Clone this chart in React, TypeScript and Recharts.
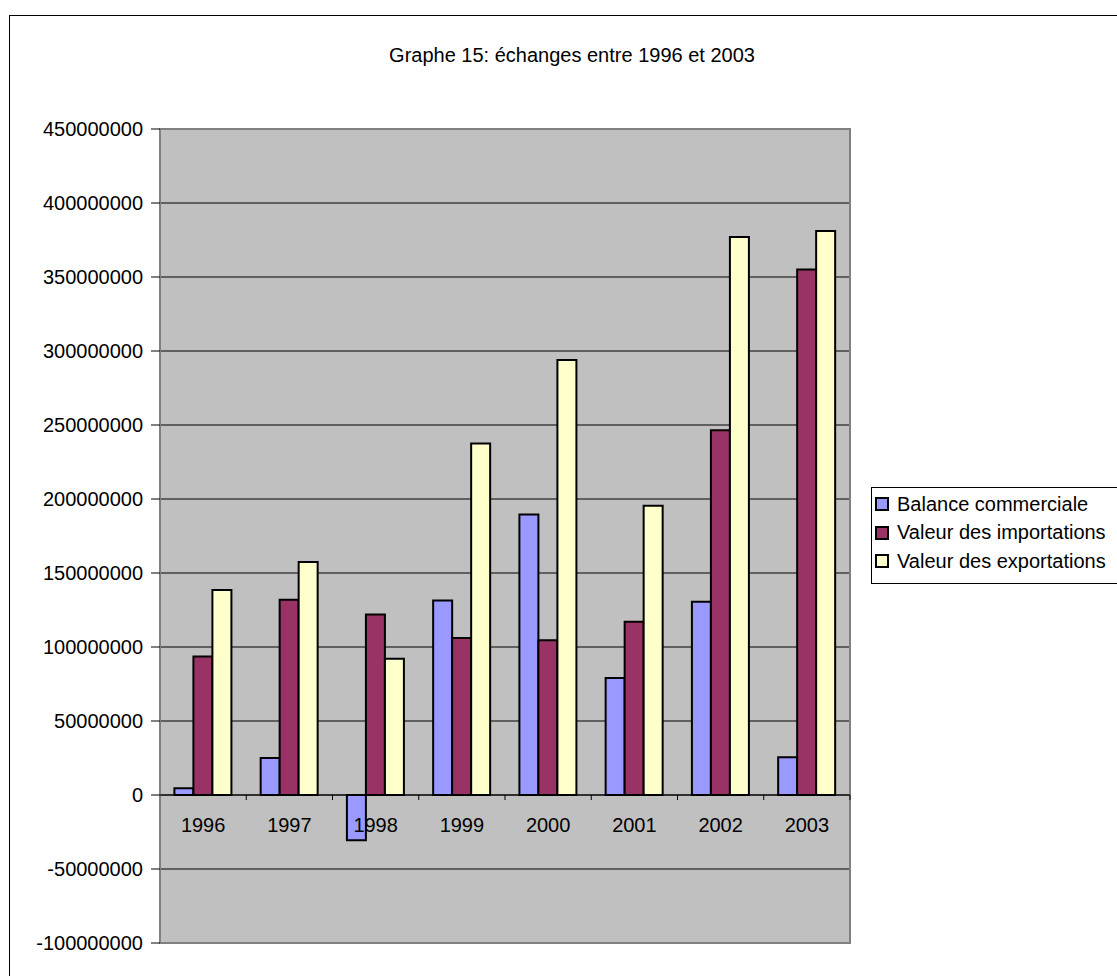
import {
  BarChart, Bar, XAxis, YAxis, CartesianGrid, ReferenceLine, ReferenceArea, Legend,
} from 'recharts'

// values (francs, roughly)
const YEARS = ['1996', '1997', '1998', '1999', '2000', '2001', '2002', '2003']
const BALANCE = [4500000, 25000000, -30500000, 131500000, 189500000, 79000000, 130500000, 25500000]
const IMPORTS = [93500000, 132000000, 122000000, 106000000, 104500000, 117000000, 246500000, 355000000]
const EXPORTS = [138500000, 157500000, 92000000, 237500000, 294000000, 195500000, 377000000, 381000000]
const Y_TICKS = [-100000000, -50000000, 0, 50000000, 100000000, 150000000, 200000000, 250000000, 300000000, 350000000, 400000000, 450000000]

const SERIES = [
  { key: 'balance', name: 'Balance commerciale', color: '#9999FF' },
  { key: 'imports', name: 'Valeur des importations', color: '#993366' },
  { key: 'exports', name: 'Valeur des exportations', color: '#FFFFCC' },
]

const data = YEARS.map((y, i) => ({
  year: y,
  balance: BALANCE[i],
  imports: IMPORTS[i],
  exports: EXPORTS[i],
}))

const W = 1117
const H = 976
const M = { top: 129, right: 267, bottom: 13, left: 10 }
const PLOT_LEFT = 160
const PLOT_RIGHT = W - M.right
const PLOT_TOP = M.top
const PLOT_BOTTOM = 943
const BAND = (PLOT_RIGHT - PLOT_LEFT) / YEARS.length
const ZERO_Y = PLOT_TOP + (450 / 550) * (PLOT_BOTTOM - PLOT_TOP)
const FONT = '"Liberation Sans", Arial, sans-serif'

function YearTick(props: any) {
  const { x, payload } = props
  return (
    <g>
      <line x1={x + BAND / 2} x2={x + BAND / 2} y1={ZERO_Y} y2={ZERO_Y + 5} stroke="#000" />
      <text x={x} y={ZERO_Y + 37} textAnchor="middle" fontSize={20} fontFamily={FONT} fill="#000">
        {payload.value}
      </text>
    </g>
  )
}

function LegendBox() {
  return (
    <div style={{
      border: '1px solid #000', background: '#fff', padding: '2px 0 7px 3px',
      width: 260, fontFamily: FONT, fontSize: 20, color: '#000',
    }}>
      {SERIES.map(s => (
        <div key={s.key} style={{ display: 'flex', alignItems: 'center', height: 28.5 }}>
          <span style={{
            display: 'inline-block', width: 10, height: 10, background: s.color,
            border: '2px solid #000', marginRight: 8,
          }} />
          {s.name}
        </div>
      ))}
    </div>
  )
}

export default function App() {
  return (
    <div style={{ position: 'absolute', left: 0, top: 0, width: W, height: H, overflow: 'hidden', background: '#fff' }}>
      <div style={{
        position: 'absolute', left: 9, top: 15, width: 1300, height: 1200,
        border: '1px solid #000', boxSizing: 'border-box',
      }} />
      <div style={{
        position: 'absolute', left: 0, width: 1144, top: 44, textAlign: 'center',
        fontFamily: FONT, fontSize: 20, color: '#000',
      }}>
        Graphe 15: échanges entre 1996 et 2003
      </div>
      <div style={{ position: 'absolute', left: 0, top: 0 }}>
        <BarChart width={W} height={H} data={data} margin={M} barGap={0} barCategoryGap="16.7%">
          <CartesianGrid vertical={false} stroke="#000" fill="#C0C0C0" fillOpacity={1} />
          <ReferenceArea y1={-100000000} y2={450000000} fill="none" stroke="#808080" strokeWidth={2} />
          <XAxis dataKey="year" height={20} axisLine={false} tickLine={false} tick={<YearTick />} interval={0} />
          <YAxis
            width={150}
            domain={[-100000000, 450000000]}
            ticks={Y_TICKS}
            interval={0}
            axisLine={false}
            tickLine={{ stroke: '#000' }}
            tickSize={9}
            tickMargin={8}
            tick={{ fontSize: 20, fontFamily: FONT, fill: '#000' }}
          />
          <ReferenceLine y={0} stroke="#000" strokeWidth={1} />
          {SERIES.map(s => (
            <Bar
              key={s.key}
              dataKey={s.key}
              name={s.name}
              fill={s.color}
              stroke="#000"
              strokeWidth={2}
              isAnimationActive={false}
            />
          ))}
          <Legend
            layout="horizontal"
            verticalAlign="middle"
            content={<LegendBox />}
            wrapperStyle={{ left: 871, top: 487, width: 'auto' }}
          />
        </BarChart>
      </div>
    </div>
  )
}
